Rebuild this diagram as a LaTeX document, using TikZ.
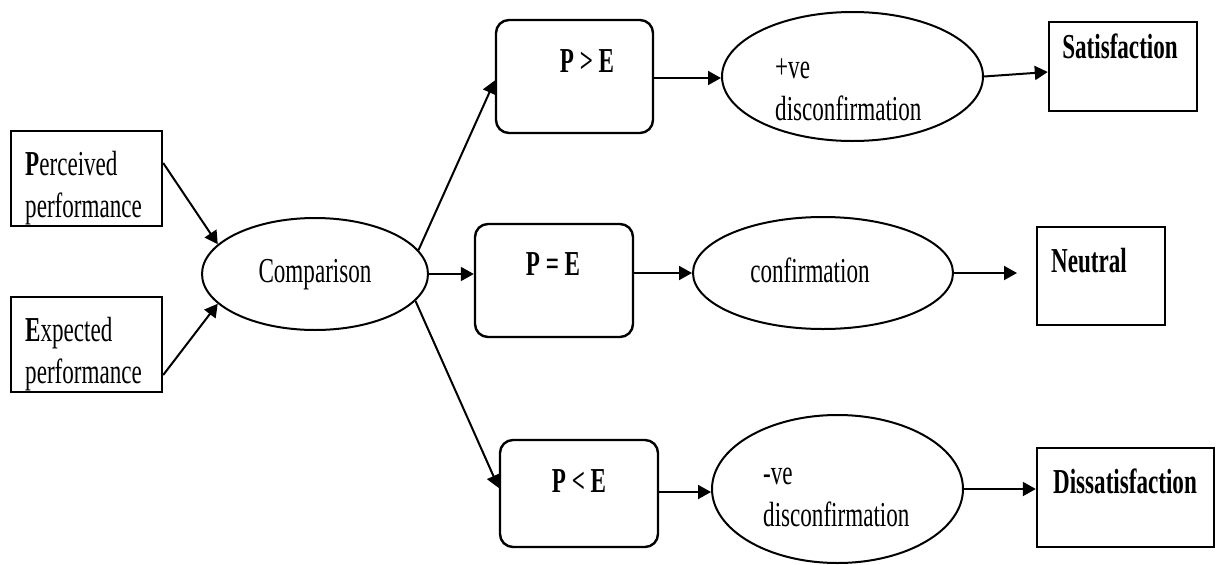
\documentclass[tikz,border=0pt]{standalone}
\usepackage{fontspec}
\setmainfont{Liberation Serif}[FakeStretch=0.66]
\usetikzlibrary{shapes.geometric,arrows.meta}
\begin{document}
\begin{tikzpicture}[x=1pt,y=-1pt,
  shp/.style={draw, line width=2.4pt, inner sep=0pt},
  sbox/.style={shp, rectangle},
  rbox/.style={shp, rectangle, rounded corners=13pt},
  ell/.style={draw, line width=2pt, inner sep=0pt, ellipse},
  txt/.style={inner sep=0pt, font=\fontsize{35}{42}\selectfont, align=left},
  btxt/.style={txt, font=\fontsize{35}{42}\selectfont\bfseries},
  arr/.style={line width=2pt, -{Triangle[length=13pt,width=14pt]}},
]
\useasboundingbox (0,0) rectangle (1216,565);

% shapes
\node[sbox, minimum width=151pt, minimum height=95pt] (perc) at (86.5,178.5) {};
\node[sbox, minimum width=151pt, minimum height=95pt] (expe) at (86.5,344.5) {};
\node[ell, minimum width=226pt, minimum height=112pt] (comp) at (315,274) {};
\node[rbox, minimum width=157pt, minimum height=113pt] (pgt) at (574.5,76.5) {};
\node[ell, minimum width=261pt, minimum height=129pt] (pos) at (852.5,76.5) {};
\node[sbox, minimum width=148pt, minimum height=89pt] (sat) at (1123,66.5) {};
\node[rbox, minimum width=158pt, minimum height=113pt] (peq) at (554,280.5) {};
\node[ell, minimum width=260pt, minimum height=112pt] (conf) at (823,273) {};
\node[sbox, minimum width=128pt, minimum height=98pt] (neut) at (1101,276) {};
\node[rbox, minimum width=158pt, minimum height=107pt] (plt) at (579,493.5) {};
\node[ell, minimum width=251pt, minimum height=148pt] (neg) at (837.5,489) {};
\node[sbox, minimum width=177pt, minimum height=99pt] (dis) at (1125.5,497.5) {};

% texts (base anchor = baseline of the last line)
\node[txt, anchor=base west] (perct) at (25,217) {\textbf{P}erceived\\performance};
\node[txt, anchor=base west] (expet) at (25,383) {\textbf{E}xpected\\performance};
\node[txt, anchor=base] (compt) at (315,282) {Comparison};
\node[btxt, anchor=base] (pgtt) at (587,72) {P > E};
\node[txt, anchor=base west] (post) at (775,120) {+ve\\disconfirmation};
\node[btxt, anchor=base] (satt) at (1120,58) {Satisfaction};
\node[btxt, anchor=base] (peqt) at (553,275) {P = E};
\node[txt, anchor=base] (conft) at (810,282) {confirmation};
\node[btxt, anchor=base west] (neutt) at (1051,272) {Neutral};
\node[btxt, anchor=base] (pltt) at (579,492) {P < E};
\node[txt, anchor=base west] (negt) at (763,526) {-ve\\disconfirmation};
\node[btxt, anchor=base] (dist) at (1125,493) {Dissatisfaction};

% connectors
\draw[arr] ([yshift=15.5pt]perc.east) -- (comp.163);
\draw[arr] ([yshift=-30.5pt]expe.east) -- (comp.197);
\draw[arr] (comp.13) -- ([yshift=-4pt]pgt.west);
\draw[arr] (comp.east) -- (comp.east -| peq.west);
\draw[arr] (comp.-15) -- ([yshift=5.5pt]plt.west);
\draw[arr] ([yshift=-1.5pt]pgt.east) -- ([yshift=-1.5pt]pos.west);
\draw[arr] (peq.east |- conf.west) -- (conf.west);
\draw[arr] ([yshift=1.5pt]plt.east) -- ([yshift=1.5pt]plt.east -| neg.west);
\draw[arr] (pos.east) -- ([yshift=-5.5pt]sat.west);
\coordinate (nend) at (1017,273);
\draw[arr] (conf.east) -- (nend);
\draw[arr] (neg.east) -- (neg.east -| dis.west);
\end{tikzpicture}
\end{document}
